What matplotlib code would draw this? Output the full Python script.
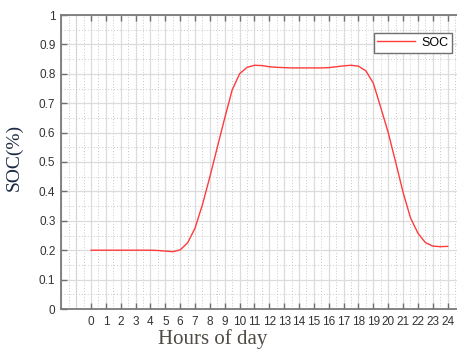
import matplotlib
matplotlib.use("Agg")
import matplotlib.pyplot as plt
from matplotlib.ticker import MultipleLocator

hours = [0, 0.5, 1, 1.5, 2, 2.5, 3, 3.5, 4, 4.5, 5, 5.5, 6, 6.5, 7, 7.5, 8, 8.5,
         9, 9.5, 10, 10.5, 11, 11.5, 12, 12.5, 13, 13.5, 14, 14.5, 15, 15.5, 16,
         16.5, 17, 17.5, 18, 18.5, 19, 19.5, 20, 20.5, 21, 21.5, 22, 22.5, 23, 23.5, 24]
soc = [0.200, 0.200, 0.200, 0.200, 0.200, 0.200, 0.200, 0.200, 0.200, 0.199, 0.197, 0.195,
       0.201, 0.225, 0.275, 0.355, 0.450, 0.550, 0.650, 0.745, 0.800, 0.822, 0.829, 0.828,
       0.824, 0.822, 0.821, 0.820, 0.820, 0.820, 0.820, 0.820, 0.821, 0.824, 0.827, 0.829,
       0.826, 0.810, 0.768, 0.685, 0.600, 0.500, 0.397, 0.310, 0.258, 0.226, 0.214, 0.212, 0.213]
xtick_vals = list(range(0, 25))
ytick_vals = [0, 0.1, 0.2, 0.3, 0.4, 0.5, 0.6, 0.7, 0.8, 0.9, 1.0]
ytick_labels = ["0", "0.1", "0.2", "0.3", "0.4", "0.5", "0.6", "0.7", "0.8", "0.9", "1"]

plt.rcParams['font.family'] = ['Liberation Sans', 'DejaVu Sans']

fig = plt.figure(figsize=(4.57, 3.51), dpi=100)
W, H = 457, 351
ax = fig.add_axes([61 / W, (H - 309) / H, 396 / W, 294 / H])

ax.plot(hours, soc, color='#ff3b3b', lw=1.0, label='SOC')

ax.set_xlim(-2.02, 24.63)
ax.set_ylim(0, 1)
ax.set_xticks(xtick_vals)
ax.set_xticklabels([str(v) for v in xtick_vals])
ax.set_yticks(ytick_vals)
ax.set_yticklabels(ytick_labels)
ax.xaxis.set_minor_locator(MultipleLocator(0.5))
ax.yaxis.set_minor_locator(MultipleLocator(0.05))

ax.grid(which='major', color='#dcdcdc', lw=0.9, ls='-')
ax.grid(which='minor', color='#c8c8c8', lw=0.7, ls=(0, (1, 2)))
for xv in (-2, -1):
    ax.axvline(xv, color='#dcdcdc', lw=0.9, zorder=0.5)
ax.set_axisbelow(True)

ax.tick_params(which='major', direction='in', length=4, width=1, color='#707070',
               labelsize=8.5, labelcolor='#333333', top=True, pad=5)
ax.tick_params(which='minor', length=0)
ax.tick_params(axis='y', pad=4)
for s in ('left', 'bottom', 'top'):
    ax.spines[s].set_color('#7a7a7a')
    ax.spines[s].set_linewidth(1.3)
ax.spines['right'].set_visible(False)

ax.set_xlabel('Hours of day', family='Liberation Serif', fontsize=15, color='#4f4a44')
ax.xaxis.set_label_coords(0.384, -0.068)
ax.set_ylabel('SOC(%)', family='Liberation Serif', fontsize=14, color='#1c2a44')
ax.yaxis.set_label_coords(-0.096, 0.517)

leg = ax.legend(loc='upper right', bbox_to_anchor=(391 / 396, (309 - 33) / 294),
                fontsize=9, frameon=True, fancybox=False, handlelength=3.0,
                borderpad=0.3, handletextpad=0.5, borderaxespad=0)
leg.get_frame().set_edgecolor('#707070')
leg.get_frame().set_linewidth(1.0)
leg.get_frame().set_alpha(1)

fig.savefig('out.png', dpi=100)
